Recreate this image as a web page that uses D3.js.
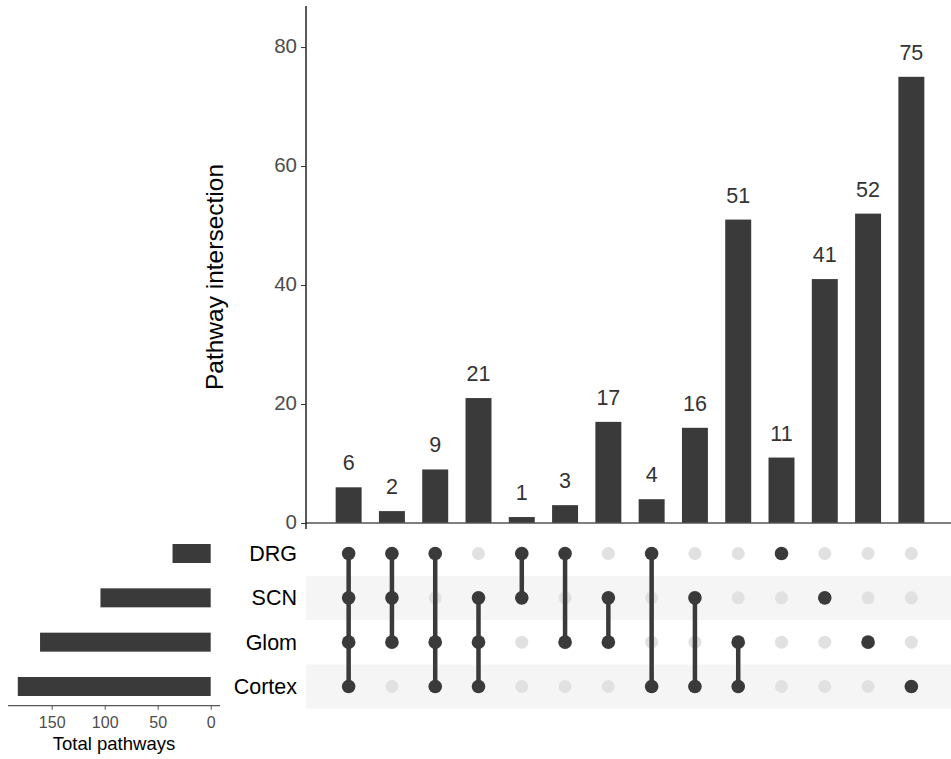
<!DOCTYPE html>
<html>
<head>
<meta charset="utf-8">
<script src="https://cdn.jsdelivr.net/npm/d3@7"></script>
<style>
  body { margin: 0; background: #fff; }
  text { font-family: "Liberation Sans", Arial, sans-serif; }
</style>
</head>
<body>
<svg id="chart" width="951" height="759"></svg>
<script>
// Sets, top row first
const sets = ["DRG", "SCN", "Glom", "Cortex"];
// Intersections: which sets each one involves, left to right
const intersections = [
  ["DRG", "SCN", "Glom", "Cortex"],
  ["DRG", "SCN", "Glom"],
  ["DRG", "Glom", "Cortex"],
  ["SCN", "Glom", "Cortex"],
  ["DRG", "SCN"],
  ["DRG", "Glom"],
  ["SCN", "Glom"],
  ["DRG", "Cortex"],
  ["SCN", "Cortex"],
  ["Glom", "Cortex"],
  ["DRG"],
  ["SCN"],
  ["Glom"],
  ["Cortex"]
];
const intersectionCounts = [6, 2, 9, 21, 1, 3, 17, 4, 16, 51, 11, 41, 52, 75];
const yTicks = [0, 20, 40, 60, 80];
const sizeTicks = [150, 100, 50, 0];

// Total per set, summed from the intersections that contain it
const setTotals = sets.map(s =>
  d3.sum(intersections.map((m, i) => m.includes(s) ? intersectionCounts[i] : 0)));

const svg = d3.select("#chart");
const dark = "#3a3a3a";
const font = "'Liberation Sans', Arial, sans-serif";
const idx = d3.range(intersections.length);

// ---- Intersection bar chart ----
const x = d3.scaleBand().domain(idx).range([327, 933]).paddingInner(0.4).paddingOuter(0.2);
const y = d3.scaleLinear().domain([0, 86.9]).range([523, 6]);

svg.append("g")
  .selectAll("rect").data(idx).join("rect")
  .attr("x", i => x(i))
  .attr("y", i => y(intersectionCounts[i]))
  .attr("width", x.bandwidth())
  .attr("height", i => y(0) - y(intersectionCounts[i]))
  .attr("fill", dark);

svg.append("g")
  .selectAll("text").data(idx).join("text")
  .attr("x", i => x(i) + x.bandwidth() / 2)
  .attr("y", i => y(intersectionCounts[i]) - 17)
  .attr("text-anchor", "middle")
  .attr("font-size", 21.5)
  .attr("fill", "#333")
  .text(i => intersectionCounts[i]);

// x baseline
svg.append("line")
  .attr("x1", 306).attr("x2", 951)
  .attr("y1", y(0)).attr("y2", y(0))
  .attr("stroke", "#555").attr("stroke-width", 1.5);

// y axis
const yAxis = svg.append("g")
  .attr("transform", "translate(306,0)")
  .call(d3.axisLeft(y).tickValues(yTicks).tickSize(5).tickPadding(4));
yAxis.select(".domain").attr("stroke", "#000").attr("stroke-width", 1.3)
  .attr("d", `M0,${y(86.9)}V${y(0) + 6}`);
yAxis.selectAll(".tick line").attr("stroke", "#333");
yAxis.selectAll(".tick text").attr("font-size", 20.5).attr("fill", "#4d4d4d")
  .attr("dy", "0.25em")
  .style("font-family", font);

svg.append("text")
  .attr("transform", "translate(223,277) rotate(-90)")
  .attr("text-anchor", "middle")
  .attr("font-size", 24.5)
  .attr("fill", "#000")
  .text("Pathway intersection");

// ---- Matrix ----
const rowY = d3.scalePoint().domain(sets).range([553.5, 686.5]);
const rowH = 44;

svg.append("g")
  .selectAll("rect").data(sets.filter((s, i) => i % 2 === 1)).join("rect")
  .attr("x", 306).attr("width", 645)
  .attr("y", s => rowY(s) - rowH / 2).attr("height", rowH)
  .attr("fill", "#f5f5f5");

// empty dots
const cells = [];
idx.forEach(i => sets.forEach(s => cells.push({ i, s, on: intersections[i].includes(s) })));

svg.append("g")
  .selectAll("circle").data(cells.filter(c => !c.on)).join("circle")
  .attr("cx", c => x(c.i) + x.bandwidth() / 2)
  .attr("cy", c => rowY(c.s))
  .attr("r", 6.5)
  .attr("fill", "#e1e1e1");

// connecting lines
svg.append("g")
  .selectAll("line").data(idx.filter(i => intersections[i].length > 1)).join("line")
  .attr("x1", i => x(i) + x.bandwidth() / 2)
  .attr("x2", i => x(i) + x.bandwidth() / 2)
  .attr("y1", i => d3.min(intersections[i], s => rowY(s)))
  .attr("y2", i => d3.max(intersections[i], s => rowY(s)))
  .attr("stroke", dark).attr("stroke-width", 4.5);

svg.append("g")
  .selectAll("circle").data(cells.filter(c => c.on)).join("circle")
  .attr("cx", c => x(c.i) + x.bandwidth() / 2)
  .attr("cy", c => rowY(c.s))
  .attr("r", 6.8)
  .attr("fill", dark);

// set labels
svg.append("g")
  .selectAll("text").data(sets).join("text")
  .attr("x", 297)
  .attr("y", s => rowY(s) + 7.5)
  .attr("text-anchor", "end")
  .attr("font-size", 21.5)
  .attr("fill", "#000")
  .text(s => s);

// ---- Set size bars ----
const sx = d3.scaleLinear().domain([0, 150]).range([210.7, 51.7]);

svg.append("g")
  .selectAll("rect").data(sets).join("rect")
  .attr("x", s => sx(setTotals[sets.indexOf(s)]))
  .attr("y", s => rowY(s) - 9.5)
  .attr("width", s => sx(0) - sx(setTotals[sets.indexOf(s)]))
  .attr("height", 19)
  .attr("fill", dark);

const sAxis = svg.append("g")
  .attr("transform", "translate(0,705.7)")
  .call(d3.axisBottom(sx).tickValues(sizeTicks).tickSize(4).tickPadding(7));
sAxis.select(".domain").attr("stroke", "#555").attr("stroke-width", 1.3)
  .attr("d", "M8,0H220");
sAxis.selectAll(".tick line").attr("stroke", "#555");
sAxis.selectAll(".tick text").attr("font-size", 16).attr("fill", "#4d4d4d")
  .style("font-family", font);

svg.append("text")
  .attr("x", 114).attr("y", 750)
  .attr("text-anchor", "middle")
  .attr("font-size", 18.5)
  .attr("fill", "#000")
  .text("Total pathways");
</script>
</body>
</html>
